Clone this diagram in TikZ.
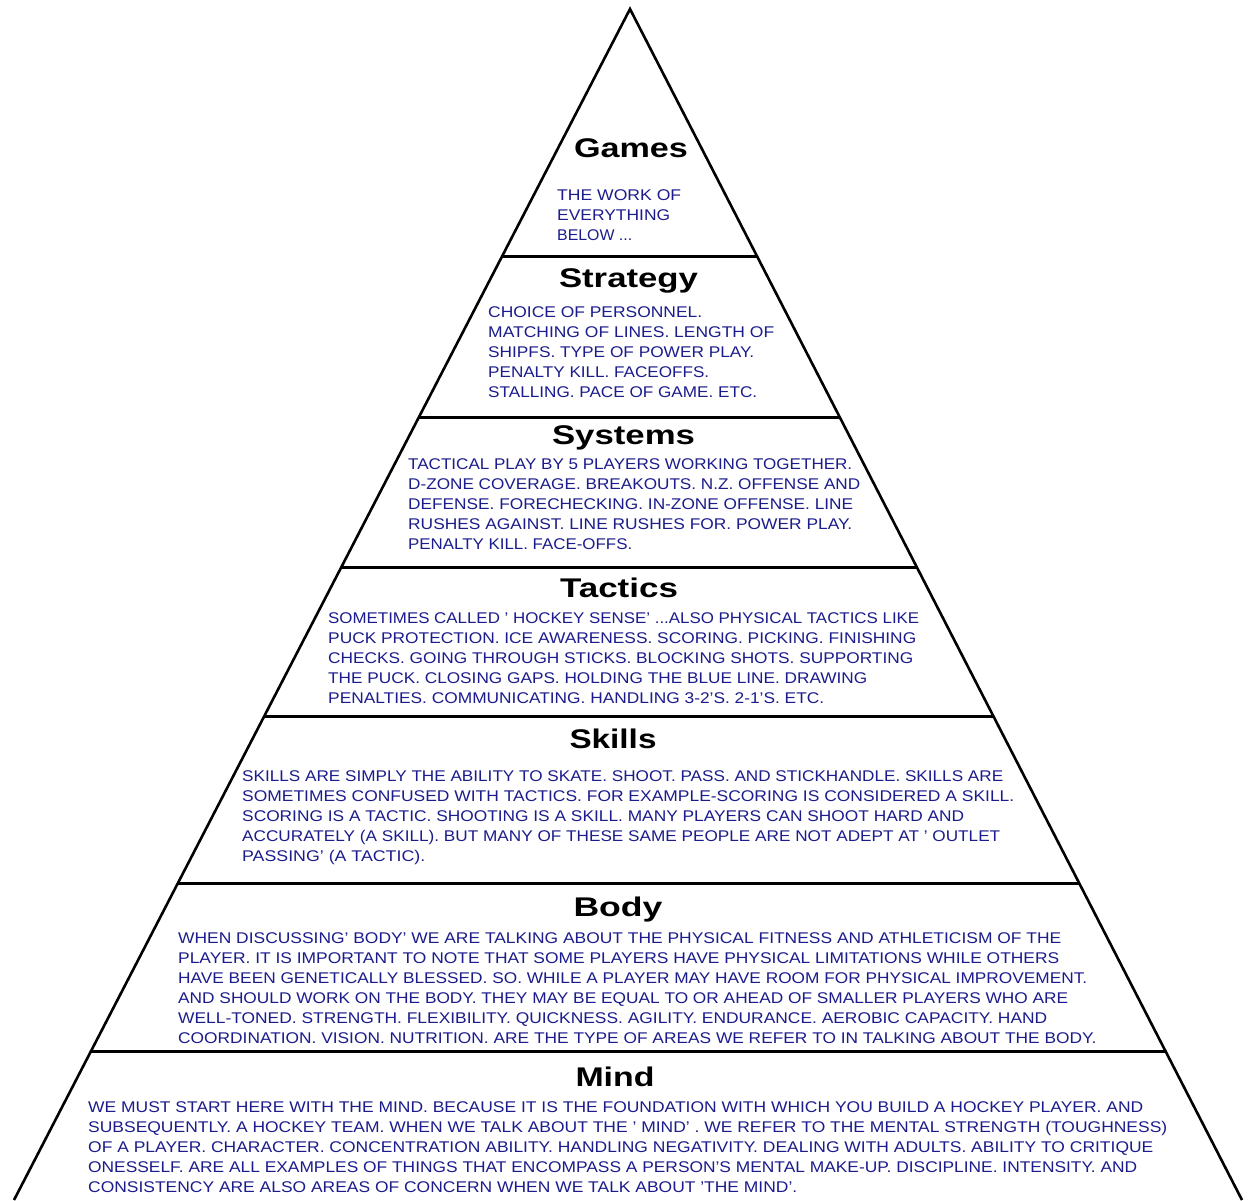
\documentclass[tikz,border=0pt]{standalone}
\usepackage{fontspec}
\setmainfont{Liberation Sans}
\usepackage{graphicx}
\definecolor{textblue}{RGB}{28,28,140}
\tikzset{
  bodytext/.style={anchor=base west, inner sep=0pt, text=textblue, font=\fontsize{15.5}{18}\selectfont},
  headtext/.style={anchor=base, inner sep=0pt, text=black, font=\fontsize{27}{30}\selectfont\bfseries},
  pyredge/.style={line width=2.6pt, line join=miter, miter limit=20},
  tierline/.style={line width=3pt}
}
\newcommand\bline[5]{\node[bodytext] (#1) at (#2,#3) {\resizebox{#4pt}{\height}{#5}};}
\newcommand\headline[5]{\node[headtext] (#1) at (#2,#3) {\resizebox{#4pt}{\height}{#5}};}
\begin{document}
\begin{tikzpicture}[x=1pt,y=-1pt]
\fill[white] (0,0) rectangle (1248,1200);
\useasboundingbox (0,0) rectangle (1248,1200);
% pyramid outline
\coordinate (apex) at (630,9);
\coordinate (bl) at (14,1200);
\coordinate (br) at (1242,1200);
\draw[pyredge] (bl) -- (apex) -- (br);
% tier lines
\coordinate (t1l) at (502.3,256);  \coordinate (t1r) at (756.9,256);
\coordinate (t2l) at (419.0,417);  \coordinate (t2r) at (839.7,417);
\coordinate (t3l) at (341.4,567);  \coordinate (t3r) at (916.8,567);
\coordinate (t4l) at (264.3,716);  \coordinate (t4r) at (993.3,716);
\coordinate (t5l) at (178.0,883);  \coordinate (t5r) at (1079.2,883);
\coordinate (t6l) at (91.1,1051);  \coordinate (t6r) at (1165.5,1051);
\foreach \i in {1,...,6} {\draw[tierline] (t\i l) -- (t\i r);}
% Games
\headline{hgames}{631}{157}{114}{Games}
\bline{g1}{557}{200}{124}{THE WORK OF}
\bline{g2}{557}{220}{113}{EVERYTHING}
\bline{g3}{557}{240}{75}{BELOW ...}
% Strategy
\headline{hstrat}{628.5}{287}{139}{Strategy}
\bline{s1}{488}{317}{214}{CHOICE OF PERSONNEL.}
\bline{s2}{488}{337}{286}{MATCHING OF LINES. LENGTH OF}
\bline{s3}{488}{357}{266}{SHIPFS. TYPE OF POWER PLAY.}
\bline{s4}{488}{377}{221}{PENALTY KILL. FACEOFFS.}
\bline{s5}{488}{397}{269}{STALLING. PACE OF GAME. ETC.}
% Systems
\headline{hsys}{623.5}{444}{143}{Systems}
\bline{y1}{408}{469}{444}{TACTICAL PLAY BY 5 PLAYERS WORKING TOGETHER.}
\bline{y2}{408}{489}{452}{D-ZONE COVERAGE. BREAKOUTS. N.Z. OFFENSE AND}
\bline{y3}{408}{509}{445}{DEFENSE. FORECHECKING. IN-ZONE OFFENSE. LINE}
\bline{y4}{408}{529}{444}{RUSHES AGAINST. LINE RUSHES FOR. POWER PLAY.}
\bline{y5}{408}{549}{224}{PENALTY KILL. FACE-OFFS.}
% Tactics
\headline{htac}{619}{597}{118}{Tactics}
\bline{c1}{328}{623}{591}{SOMETIMES CALLED ' HOCKEY SENSE' ...ALSO PHYSICAL TACTICS LIKE}
\bline{c2}{328}{643}{588}{PUCK PROTECTION. ICE AWARENESS. SCORING. PICKING. FINISHING}
\bline{c3}{328}{663}{585}{CHECKS. GOING THROUGH STICKS. BLOCKING SHOTS. SUPPORTING}
\bline{c4}{328}{683}{539}{THE PUCK. CLOSING GAPS. HOLDING THE BLUE LINE. DRAWING}
\bline{c5}{328}{703}{496}{PENALTIES. COMMUNICATING. HANDLING 3-2'S. 2-1'S. ETC.}
% Skills
\headline{hskill}{613}{748}{87}{Skills}
\bline{k1}{242}{781}{761}{SKILLS ARE SIMPLY THE ABILITY TO SKATE. SHOOT. PASS. AND STICKHANDLE.  SKILLS ARE}
\bline{k2}{242}{801}{772}{SOMETIMES CONFUSED WITH TACTICS.  FOR EXAMPLE-SCORING IS CONSIDERED A SKILL.}
\bline{k3}{242}{821}{722}{SCORING IS A TACTIC. SHOOTING IS A SKILL.  MANY PLAYERS CAN SHOOT HARD AND}
\bline{k4}{242}{841}{758}{ACCURATELY (A SKILL). BUT MANY OF THESE SAME PEOPLE ARE NOT ADEPT AT ' OUTLET}
\bline{k5}{242}{861}{183}{PASSING' (A TACTIC).}
% Body
\headline{hbody}{618}{916}{89}{Body}
\bline{b1}{178}{943}{883}{WHEN DISCUSSING' BODY' WE ARE TALKING ABOUT THE PHYSICAL FITNESS AND ATHLETICISM OF THE}
\bline{b2}{178}{963}{881}{PLAYER.  IT IS IMPORTANT TO NOTE THAT SOME PLAYERS HAVE PHYSICAL LIMITATIONS WHILE OTHERS}
\bline{b3}{178}{983}{909}{HAVE BEEN GENETICALLY BLESSED.  SO. WHILE A PLAYER MAY HAVE ROOM FOR PHYSICAL IMPROVEMENT.}
\bline{b4}{178}{1003}{890}{AND SHOULD WORK ON THE BODY. THEY MAY BE EQUAL TO OR AHEAD OF SMALLER PLAYERS WHO ARE}
\bline{b5}{178}{1023}{869}{WELL-TONED.  STRENGTH. FLEXIBILITY. QUICKNESS. AGILITY. ENDURANCE. AEROBIC CAPACITY. HAND}
\bline{b6}{178}{1043}{918}{COORDINATION. VISION. NUTRITION. ARE THE TYPE OF AREAS WE REFER TO IN TALKING ABOUT THE BODY.}
% Mind
\headline{hmind}{615}{1086}{79}{Mind}
\bline{m1}{88}{1112}{1055}{WE MUST START HERE WITH THE MIND. BECAUSE IT IS THE FOUNDATION WITH WHICH YOU BUILD A HOCKEY PLAYER. AND}
\bline{m2}{88}{1132}{1079}{SUBSEQUENTLY. A HOCKEY TEAM.  WHEN WE TALK ABOUT THE ' MIND' . WE REFER TO THE MENTAL STRENGTH (TOUGHNESS)}
\bline{m3}{88}{1152}{1065}{OF A PLAYER.  CHARACTER. CONCENTRATION ABILITY. HANDLING NEGATIVITY. DEALING WITH ADULTS. ABILITY TO CRITIQUE}
\bline{m4}{88}{1172}{1049}{ONESSELF. ARE ALL EXAMPLES OF THINGS THAT ENCOMPASS A PERSON'S MENTAL MAKE-UP.  DISCIPLINE. INTENSITY. AND}
\bline{m5}{88}{1192}{709}{CONSISTENCY ARE ALSO AREAS OF CONCERN WHEN WE TALK ABOUT 'THE MIND'.}
\end{tikzpicture}
\end{document}
